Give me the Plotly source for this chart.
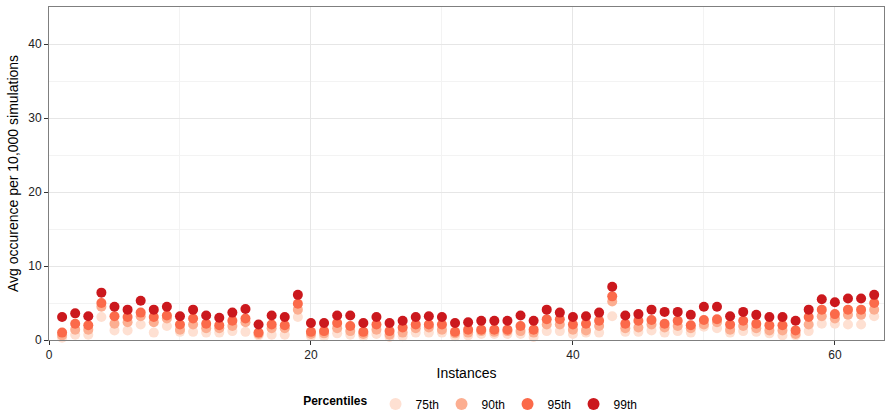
import plotly.graph_objects as go

instances = list(range(1, 64))

p99 = [3.1, 3.6, 3.2, 6.4, 4.5, 4.1, 5.3, 4.1, 4.5, 3.2,
       4.1, 3.3, 3.0, 3.7, 4.2, 2.1, 3.3, 3.1, 6.1, 2.3,
       2.3, 3.3, 3.3, 2.3, 3.1, 2.3, 2.6, 3.1, 3.2, 3.1,
       2.3, 2.4, 2.6, 2.6, 2.6, 3.3, 2.6, 4.1, 3.7, 3.1,
       3.2, 3.7, 7.2, 3.3, 3.5, 4.1, 3.8, 3.8, 3.4, 4.5,
       4.5, 3.2, 3.8, 3.4, 3.1, 3.1, 2.6, 4.1, 5.5, 5.1,
       5.6, 5.6, 6.1]
p95 = [1.0, 2.2, 2.0, 5.0, 3.2, 3.1, 3.7, 3.1, 3.3, 2.1,
       2.9, 2.2, 2.0, 2.6, 2.9, 1.0, 2.1, 2.0, 4.9, 1.1,
       1.2, 2.3, 1.9, 1.1, 2.1, 1.2, 1.7, 2.1, 2.1, 2.1,
       1.1, 1.4, 1.4, 1.4, 1.4, 1.9, 1.4, 2.8, 2.8, 2.1,
       2.2, 2.6, 5.9, 2.2, 2.6, 2.7, 2.2, 2.6, 2.0, 2.7,
       2.8, 2.1, 2.6, 2.2, 2.0, 2.0, 1.3, 3.1, 4.1, 3.5,
       4.1, 4.1, 5.0]
p90 = [0.6, 1.4, 1.4, 4.5, 2.2, 2.4, 3.2, 2.4, 2.9, 1.4,
       2.1, 1.6, 1.6, 1.9, 2.4, 0.8, 1.6, 1.6, 4.1, 0.8,
       0.9, 1.6, 1.2, 0.8, 1.4, 0.7, 1.0, 1.6, 1.7, 1.4,
       0.9, 1.0, 1.2, 1.1, 1.2, 1.2, 1.0, 2.1, 2.1, 1.4,
       1.3, 1.9, 5.2, 1.6, 1.7, 2.1, 1.7, 1.9, 1.6, 2.1,
       2.4, 1.4, 1.9, 1.6, 1.3, 1.3, 0.8, 2.1, 3.2, 2.9,
       3.4, 3.4, 4.1]
p75 = [0.3, 0.7, 0.7, 3.1, 1.3, 1.3, 2.1, 1.0, 1.9, 1.1,
       1.1, 1.0, 1.0, 1.2, 1.1, 0.6, 0.7, 0.7, 3.1, 0.5,
       0.5, 0.9, 0.7, 0.5, 0.8, 0.4, 0.5, 1.0, 1.0, 1.0,
       0.5, 0.6, 0.8, 0.8, 0.8, 0.8, 0.4, 1.2, 1.2, 0.8,
       1.0, 1.0, 3.2, 1.1, 1.1, 1.3, 1.0, 1.2, 1.0, 1.8,
       1.6, 1.0, 1.2, 1.1, 0.9, 0.6, 0.6, 1.2, 2.2, 2.2,
       2.1, 2.1, 3.2]

series_names = ["75th", "90th", "95th", "99th"]
series_values = [p75, p90, p95, p99]
colors = ["#FEE0D2", "#FCAE91", "#FB6A4A", "#CB181D"]

fig = go.Figure()
for name, vals, col in zip(series_names, series_values, colors):
    fig.add_trace(go.Scatter(
        x=instances, y=vals, mode="markers", name=name, cliponaxis=False,
        marker=dict(color=col, size=10, line=dict(width=0)),
    ))

font_family = "Liberation Sans, Arial, sans-serif"
fig.update_layout(
    width=886, height=414,
    margin=dict(l=49, r=2, t=7, b=74),
    paper_bgcolor="white", plot_bgcolor="white",
    font=dict(family=font_family, color="#222", size=12),
    showlegend=True,
    legend=dict(
        orientation="h", x=0.505, xanchor="center",
        yref="container", y=0.024, yanchor="middle",
        title=dict(text="<b>Percentiles</b>", font=dict(size=12, color="#000"), side="left"),
        font=dict(size=12, color="#000"),
        itemsizing="constant",
        entrywidth=21, entrywidthmode="pixels",
    ),
    xaxis=dict(
        range=[0, 63.75], dtick=20, tick0=0, automargin=False,
        showgrid=True, gridcolor="#E6E6E6", gridwidth=1,
        minor=dict(dtick=10, tick0=0, showgrid=True, gridcolor="#F3F3F3", ticks=""),
        showline=True, linecolor="#7F7F7F", linewidth=1, mirror=True,
        ticks="outside", ticklen=4, tickcolor="#333", zeroline=False,
        tickfont=dict(size=12, color="#222"),
        title=dict(text="Instances", font=dict(size=14, color="#000"), standoff=6),
    ),
    yaxis=dict(
        range=[0, 45], dtick=10, tick0=0, automargin=False,
        showgrid=True, gridcolor="#E6E6E6", gridwidth=1,
        minor=dict(dtick=5, tick0=0, showgrid=True, gridcolor="#F3F3F3", ticks=""),
        showline=True, linecolor="#7F7F7F", linewidth=1, mirror=True,
        ticks="outside", ticklen=4, tickcolor="#333", zeroline=False,
        tickfont=dict(size=12, color="#222"),
        title=dict(text="Avg occurence per 10,000 simulations", font=dict(size=14, color="#000"), standoff=6),
    ),
)

fig.write_html("out.html", config={"displayModeBar": False},
               post_script="document.body.style.margin='0';")
